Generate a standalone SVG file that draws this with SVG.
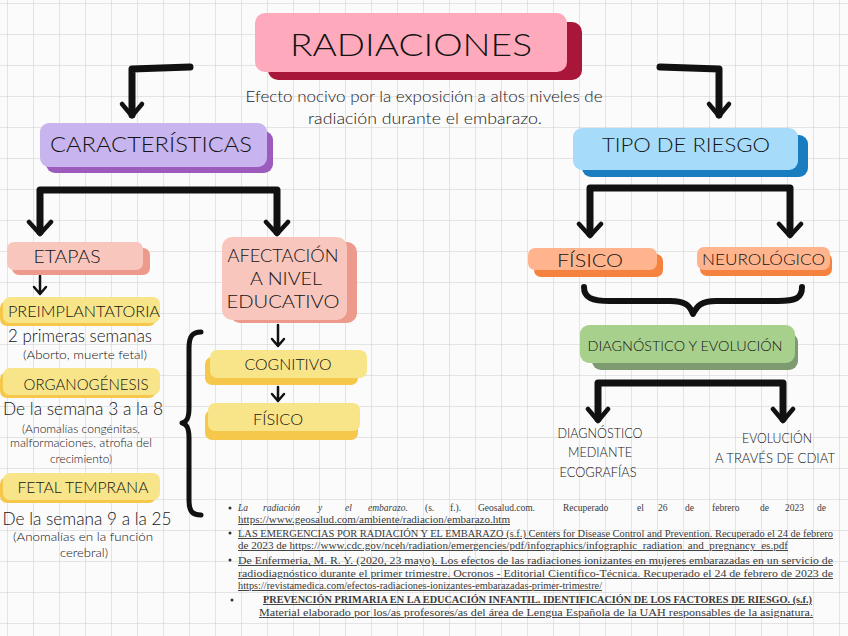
<svg xmlns="http://www.w3.org/2000/svg" width="848" height="636" viewBox="0 0 848 636">
<defs>
<pattern id="grid" x="7" y="3" width="26" height="31" patternUnits="userSpaceOnUse">
<path d="M0,0 V31 M0,0 H26" fill="none" stroke="#cdcdcd" stroke-width="1"/>
</pattern>
<style>
.h{font-family:Lato,"Open Sans","DejaVu Sans",sans-serif;font-weight:300;fill:#141414;}
.m{text-anchor:middle;}
.w{font-family:Lato,"Open Sans",sans-serif;font-weight:300;fill:#1a1a1a;}
.ref{font-family:"Liberation Serif","Times New Roman",serif;font-size:9.5px;fill:#3a3a3a;}
.u{text-decoration:underline;}
.ln{fill:none;stroke:#111;stroke-linecap:round;stroke-linejoin:round;}
.bk{stroke-width:7;}
.hd{stroke-width:4.5;}
.sm{stroke-width:2.5;}
</style>
</defs>
<rect width="848" height="636" fill="#fbfbfb"/>
<rect width="848" height="636" fill="url(#grid)"/>

<g id="connectors">
<path class="ln bk" d="M190,67 L132,69 L132,115"/>
<path class="ln hd" d="M122,104 L132,116 L142,104"/>
<path class="ln bk" d="M660,67 L719,69 L719,115"/>
<path class="ln hd" d="M709,104 L719,116 L729,104"/>
<path class="ln bk" d="M40,232 L40,190 L277,190 L277,232"/>
<path class="ln hd" d="M29,222 L40,234 L51,222 M266,222 L277,234 L288,222"/>
<path class="ln bk" d="M590,234 L590,188 L790,188 L790,234"/>
<path class="ln hd" d="M579,224 L590,236 L601,224 M779,224 L790,236 L801,224"/>
<path class="ln sm" d="M40,276 V293 M34,287 L40,294 L46,287"/>
<path class="ln sm" d="M278,325 V345 M272,339 L278,346 L284,339"/>
<path class="ln sm" d="M278,387 V400 M272,394 L278,401 L284,394"/>
<path class="ln bk" d="M598,419 L598,383 L783,383 L783,419"/>
<path class="ln hd" d="M588,409 L598,421 L608,409 M773,409 L783,421 L793,409"/>
<path class="ln" stroke-width="6" d="M584,287 C584,298 592,301 610,301 L670,301 C686,301 690,306 693,314 C697,306 701,301 716,301 L778,301 C796,301 802,298 802,287"/>
<path class="ln" stroke-width="5" d="M201,332 C192,332 189,337 189,348 L189,408 C189,418 187,422 182,423 C187,424 189,428 189,438 L189,500 C189,511 192,515 201,515"/>
</g>

<g id="radiaciones">
<rect x="268" y="22" width="314" height="58" rx="10" fill="#a8163a"/>
<rect x="255" y="13" width="312" height="59" rx="10" fill="#ffa9bd"/>
<text class="h m" x="411" y="56" font-size="31" textLength="242" lengthAdjust="spacingAndGlyphs">RADIACIONES</text>
</g>
<g id="subtitulo">
<text class="w m" x="424" y="102" font-size="15" textLength="357" lengthAdjust="spacingAndGlyphs">Efecto nocivo por la exposición a altos niveles de</text>
<text class="w m" x="425" y="124" font-size="15" textLength="234" lengthAdjust="spacingAndGlyphs">radiación durante el embarazo.</text>
</g>

<g id="caracteristicas">
<rect x="46" y="131" width="227" height="42" rx="9" fill="#9c5bbd"/>
<rect x="40" y="123" width="227" height="44" rx="9" fill="#c8b4ee"/>
<text class="h m" x="151" y="152" font-size="22" textLength="202" lengthAdjust="spacingAndGlyphs">CARACTERÍSTICAS</text>
</g>

<g id="tipo-riesgo">
<rect x="582" y="135" width="226" height="42" rx="9" fill="#1a7dc0"/>
<rect x="573" y="128" width="225" height="42" rx="9" fill="#a6dcfa"/>
<text class="h m" x="686" y="152" font-size="20" textLength="168" lengthAdjust="spacingAndGlyphs">TIPO DE RIESGO</text>
</g>

<g id="etapas">
<rect x="12" y="248" width="138" height="27" rx="7" fill="#eb9a8c"/>
<rect x="7" y="242" width="136" height="28" rx="7" fill="#f8c6bd"/>
<text class="h m" x="67" y="263" font-size="18" textLength="67" lengthAdjust="spacingAndGlyphs">ETAPAS</text>
</g>

<g id="afectacion">
<rect x="230" y="242" width="127" height="81" rx="10" fill="#eb9a8c"/>
<rect x="222" y="237" width="125" height="83" rx="10" fill="#f8c6bd"/>
<text class="h m" x="283" y="262" font-size="18" textLength="111" lengthAdjust="spacingAndGlyphs">AFECTACIÓN</text>
<text class="h m" x="286" y="285" font-size="18" textLength="72" lengthAdjust="spacingAndGlyphs">A NIVEL</text>
<text class="h m" x="283" y="308" font-size="18" textLength="113" lengthAdjust="spacingAndGlyphs">EDUCATIVO</text>
</g>

<g id="cognitivo">
<rect x="205" y="357" width="153" height="28" rx="7" fill="#f5c84b"/>
<rect x="210" y="350" width="157" height="28" rx="7" fill="#f8e58a"/>
<text class="h m" x="288" y="370" font-size="15" textLength="87" lengthAdjust="spacingAndGlyphs">COGNITIVO</text>
</g>

<g id="fisico-edu">
<rect x="205" y="410" width="153" height="30" rx="7" fill="#f5c84b"/>
<rect x="208" y="403" width="152" height="28" rx="7" fill="#f8e58a"/>
<text class="h m" x="278" y="425" font-size="15" textLength="50" lengthAdjust="spacingAndGlyphs">FÍSICO</text>
</g>

<g id="preimplantatoria">
<rect x="0" y="301" width="156" height="25" rx="7" fill="#f5c84b"/>
<rect x="3" y="297" width="157" height="26" rx="7" fill="#f8e58a"/>
<text class="h m" x="84" y="317" font-size="15" textLength="152" lengthAdjust="spacingAndGlyphs">PREIMPLANTATORIA</text>
<text class="h m" x="80" y="342" font-size="17" textLength="144" lengthAdjust="spacingAndGlyphs">2 primeras semanas</text>
<text class="h m" x="85" y="359" font-size="12" textLength="124" lengthAdjust="spacingAndGlyphs">(Aborto, muerte fetal)</text>
</g>

<g id="organogenesis">
<rect x="0" y="372" width="156" height="26" rx="7" fill="#f5c84b"/>
<rect x="3" y="368" width="157" height="27" rx="7" fill="#f8e58a"/>
<text class="h m" x="86" y="390" font-size="16" textLength="125" lengthAdjust="spacingAndGlyphs">ORGANOGÉNESIS</text>
<text class="h m" x="83" y="415" font-size="17" textLength="160" lengthAdjust="spacingAndGlyphs">De la semana 3 a la 8</text>
<text class="h m" x="81" y="433" font-size="12" textLength="118" lengthAdjust="spacingAndGlyphs">(Anomalías congénitas,</text>
<text class="h m" x="81" y="447" font-size="12" textLength="142" lengthAdjust="spacingAndGlyphs">malformaciones, atrofia del</text>
<text class="h m" x="81" y="463" font-size="12" textLength="62" lengthAdjust="spacingAndGlyphs">crecimiento)</text>
</g>

<g id="fetal-temprana">
<rect x="0" y="477" width="156" height="26" rx="7" fill="#f5c84b"/>
<rect x="3" y="473" width="157" height="27" rx="7" fill="#f8e58a"/>
<text class="h m" x="83" y="493" font-size="16" textLength="131" lengthAdjust="spacingAndGlyphs">FETAL TEMPRANA</text>
<text class="h m" x="87" y="525" font-size="17" textLength="169" lengthAdjust="spacingAndGlyphs">De la semana 9 a la 25</text>
<text class="h m" x="83" y="541" font-size="12" textLength="140" lengthAdjust="spacingAndGlyphs">(Anomalías en la función</text>
<text class="h m" x="84" y="557" font-size="12" textLength="48" lengthAdjust="spacingAndGlyphs">cerebral)</text>
</g>

<g id="fisico">
<rect x="534" y="254" width="129" height="23" rx="7" fill="#f5823f"/>
<rect x="528" y="248" width="129" height="22" rx="7" fill="#ffb48e"/>
<text class="h" x="557" y="267" font-size="18" textLength="66" lengthAdjust="spacingAndGlyphs">FÍSICO</text>
</g>

<g id="neurologico">
<rect x="700" y="253" width="132" height="23" rx="7" fill="#f5823f"/>
<rect x="697" y="247" width="133" height="23" rx="7" fill="#ffb48e"/>
<text class="h" x="702" y="265" font-size="16" textLength="123" lengthAdjust="spacingAndGlyphs">NEUROLÓGICO</text>
</g>

<g id="diagnostico-evolucion">
<rect x="592" y="333" width="206" height="37" rx="9" fill="#7d9a70"/>
<rect x="580" y="325" width="215" height="38" rx="9" fill="#a8d08d"/>
<text class="h m" x="685" y="351" font-size="13" textLength="195" lengthAdjust="spacingAndGlyphs">DIAGNÓSTICO Y EVOLUCIÓN</text>
</g>

<g id="diagnostico-ecografias">
<text class="h m" x="600" y="438" font-size="13" textLength="85" lengthAdjust="spacingAndGlyphs">DIAGNÓSTICO</text>
<text class="h m" x="600" y="457" font-size="13" textLength="64" lengthAdjust="spacingAndGlyphs">MEDIANTE</text>
<text class="h m" x="598" y="477" font-size="13" textLength="77" lengthAdjust="spacingAndGlyphs">ECOGRAFÍAS</text>
</g>

<g id="evolucion-cdiat">
<text class="h m" x="777" y="443" font-size="13" textLength="70" lengthAdjust="spacingAndGlyphs">EVOLUCIÓN</text>
<text class="h m" x="775" y="463" font-size="13" textLength="120" lengthAdjust="spacingAndGlyphs">A TRAVÉS DE CDIAT</text>
</g>

<g id="referencias">
<circle cx="230" cy="508" r="1.5" fill="#333"/>
<text class="ref" y="511"><tspan x="238" font-style="italic">La</tspan><tspan x="263" font-style="italic">radiación</tspan><tspan x="318" font-style="italic">y</tspan><tspan x="345" font-style="italic">el</tspan><tspan x="368" font-style="italic">embarazo.</tspan><tspan x="425">(s.</tspan><tspan x="450">f.).</tspan><tspan x="478">Geosalud.com.</tspan><tspan x="563">Recuperado</tspan><tspan x="637">el</tspan><tspan x="658">26</tspan><tspan x="685">de</tspan><tspan x="712">febrero</tspan><tspan x="760">de</tspan><tspan x="785">2023</tspan><tspan x="817">de</tspan></text>
<text class="ref u" x="238" y="523" textLength="272" lengthAdjust="spacingAndGlyphs">https://www.geosalud.com/ambiente/radiacion/embarazo.htm</text>
<circle cx="230" cy="533" r="1.5" fill="#333"/>
<text class="ref u" x="238" y="537" textLength="595" lengthAdjust="spacingAndGlyphs">LAS EMERGENCIAS POR RADIACIÓN Y EL EMBARAZO (s.f.) Centers for Disease Control and Prevention. Recuperado el 24 de febrero</text>
<text class="ref u" x="238" y="549" textLength="550" lengthAdjust="spacingAndGlyphs">de 2023 de https://www.cdc.gov/nceh/radiation/emergencies/pdf/infographics/infographic_radiation_and_pregnancy_es.pdf</text>
<circle cx="230" cy="560" r="1.5" fill="#333"/>
<text class="ref u" x="238" y="564" textLength="595" lengthAdjust="spacingAndGlyphs">De Enfermeria, M. R. Y. (2020, 23 mayo). Los efectos de las radiaciones ionizantes en mujeres embarazadas en un servicio de</text>
<text class="ref u" x="238" y="577" textLength="595" lengthAdjust="spacingAndGlyphs">radiodiagnóstico durante el primer trimestre. Ocronos - Editorial Científico-Técnica. Recuperado el 24 de febrero de 2023 de</text>
<text class="ref u" x="238" y="589" textLength="364" lengthAdjust="spacingAndGlyphs">https://revistamedica.com/efectos-radiaciones-ionizantes-embarazadas-primer-trimestre/</text>
<circle cx="232" cy="600" r="1.5" fill="#333"/>
<text class="ref u" x="263" y="603" font-size="10.5" font-weight="bold" fill="#222" textLength="549" lengthAdjust="spacingAndGlyphs">PREVENCIÓN PRIMARIA EN LA EDUCACIÓN INFANTIL. IDENTIFICACIÓN DE LOS FACTORES DE RIESGO. (s.f.)</text>
<text class="ref u" x="259" y="616" font-size="10.5" fill="#222" textLength="554" lengthAdjust="spacingAndGlyphs">Material elaborado por los/as profesores/as del área de Lengua Española de la UAH responsables de la asignatura.</text>
</g>
</svg>
